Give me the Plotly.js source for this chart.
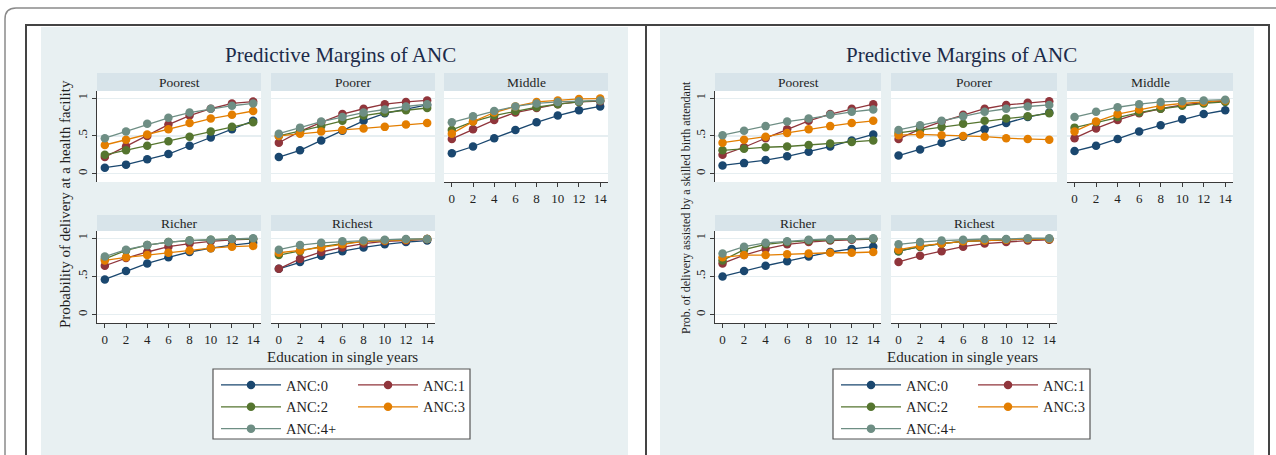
<!DOCTYPE html>
<html><head><meta charset="utf-8">
<script src="https://cdn.plot.ly/plotly-3.0.1.min.js"></script>
<style>html,body{margin:0;padding:0;background:#fff}#chart{width:1276px;height:455px}</style>
</head><body><div id="chart"></div>
<script>
// ---------- DATA ----------
const EDU = [0, 2, 4, 6, 8, 10, 12, 14];
const SERIES_NAMES = ['ANC:0', 'ANC:1', 'ANC:2', 'ANC:3', 'ANC:4+'];
const GROUPS = ['Poorest', 'Poorer', 'Middle', 'Richer', 'Richest'];
const PANEL_TITLES = ['Predictive Margins of ANC', 'Predictive Margins of ANC'];
const Y_TITLES = ['Probability of delivery at a health facility', 'Prob. of delivery assisted by a skilled birth attendant'];
const X_TITLE = 'Education in single years';
const Y_TICK_VALS = [0, 0.5, 1];
const Y_TICK_TEXT = ['0', '.5', '1'];

// Left panel: delivery at a health facility (rows = ANC:0..ANC:4+)
const facPoorest = [
  [0.08, 0.12, 0.19, 0.26, 0.37, 0.48, 0.59, 0.70],
  [0.22, 0.36, 0.50, 0.65, 0.77, 0.86, 0.93, 0.955],
  [0.25, 0.31, 0.37, 0.43, 0.49, 0.56, 0.62, 0.68],
  [0.38, 0.45, 0.52, 0.59, 0.67, 0.73, 0.78, 0.83],
  [0.47, 0.56, 0.66, 0.74, 0.81, 0.86, 0.90, 0.93]];
const facPoorer = [
  [0.22, 0.31, 0.44, 0.57, 0.70, 0.80, 0.86, 0.91],
  [0.41, 0.56, 0.68, 0.79, 0.86, 0.92, 0.95, 0.97],
  [0.50, 0.56, 0.63, 0.70, 0.77, 0.81, 0.84, 0.87],
  [0.50, 0.53, 0.56, 0.58, 0.60, 0.62, 0.65, 0.67],
  [0.53, 0.61, 0.69, 0.75, 0.81, 0.85, 0.89, 0.92]];
const facMiddle = [
  [0.27, 0.36, 0.47, 0.58, 0.68, 0.77, 0.84, 0.89],
  [0.46, 0.59, 0.71, 0.81, 0.87, 0.92, 0.95, 0.96],
  [0.58, 0.69, 0.77, 0.83, 0.88, 0.92, 0.95, 0.97],
  [0.53, 0.69, 0.81, 0.89, 0.95, 0.97, 0.99, 0.995],
  [0.68, 0.76, 0.83, 0.89, 0.93, 0.95, 0.96, 0.97]];
const facRicher = [
  [0.46, 0.57, 0.67, 0.75, 0.82, 0.87, 0.91, 0.94],
  [0.64, 0.74, 0.82, 0.89, 0.93, 0.96, 0.98, 0.99],
  [0.73, 0.84, 0.91, 0.95, 0.97, 0.98, 0.99, 0.99],
  [0.71, 0.75, 0.78, 0.81, 0.84, 0.87, 0.89, 0.90],
  [0.76, 0.85, 0.91, 0.95, 0.97, 0.98, 0.99, 1.00]];
const facRichest = [
  [0.60, 0.69, 0.77, 0.83, 0.88, 0.92, 0.95, 0.97],
  [0.60, 0.73, 0.82, 0.88, 0.93, 0.96, 0.97, 0.99],
  [0.78, 0.83, 0.89, 0.93, 0.96, 0.97, 0.98, 0.99],
  [0.81, 0.84, 0.88, 0.92, 0.96, 0.97, 0.98, 0.99],
  [0.85, 0.91, 0.94, 0.96, 0.97, 0.98, 0.99, 0.99]];

// Right panel: delivery assisted by a skilled birth attendant
const sbaPoorest = [
  [0.11, 0.14, 0.18, 0.23, 0.29, 0.36, 0.44, 0.52],
  [0.25, 0.35, 0.47, 0.59, 0.70, 0.79, 0.86, 0.92],
  [0.31, 0.33, 0.35, 0.36, 0.38, 0.40, 0.42, 0.44],
  [0.41, 0.45, 0.49, 0.54, 0.59, 0.63, 0.67, 0.70],
  [0.51, 0.57, 0.63, 0.69, 0.73, 0.78, 0.82, 0.85]];
const sbaPoorer = [
  [0.24, 0.32, 0.41, 0.49, 0.59, 0.67, 0.75, 0.81],
  [0.46, 0.59, 0.69, 0.78, 0.86, 0.91, 0.94, 0.96],
  [0.54, 0.58, 0.62, 0.66, 0.70, 0.73, 0.76, 0.80],
  [0.51, 0.52, 0.51, 0.50, 0.49, 0.47, 0.46, 0.45],
  [0.58, 0.64, 0.70, 0.76, 0.82, 0.86, 0.89, 0.91]];
const sbaMiddle = [
  [0.30, 0.37, 0.46, 0.56, 0.64, 0.72, 0.79, 0.84],
  [0.47, 0.60, 0.71, 0.80, 0.86, 0.91, 0.94, 0.96],
  [0.61, 0.68, 0.75, 0.81, 0.86, 0.90, 0.93, 0.95],
  [0.56, 0.69, 0.79, 0.85, 0.90, 0.93, 0.95, 0.97],
  [0.75, 0.82, 0.88, 0.92, 0.95, 0.96, 0.97, 0.98]];
const sbaRicher = [
  [0.50, 0.57, 0.64, 0.70, 0.76, 0.82, 0.86, 0.89],
  [0.67, 0.78, 0.86, 0.92, 0.95, 0.97, 0.98, 0.99],
  [0.71, 0.85, 0.92, 0.95, 0.97, 0.98, 0.99, 0.99],
  [0.75, 0.78, 0.78, 0.79, 0.80, 0.81, 0.81, 0.82],
  [0.80, 0.89, 0.94, 0.96, 0.98, 0.99, 0.99, 1.00]];
const sbaRichest = [
  [0.83, 0.89, 0.93, 0.96, 0.97, 0.98, 0.99, 0.99],
  [0.69, 0.77, 0.83, 0.89, 0.93, 0.95, 0.97, 0.98],
  [0.83, 0.89, 0.93, 0.96, 0.97, 0.98, 0.99, 0.99],
  [0.85, 0.90, 0.93, 0.96, 0.97, 0.98, 0.99, 0.99],
  [0.92, 0.95, 0.97, 0.98, 0.99, 0.99, 1.00, 1.00]];

const PANEL_DATA = [
  [facPoorest, facPoorer, facMiddle, facRicher, facRichest],
  [sbaPoorest, sbaPoorer, sbaMiddle, sbaRicher, sbaRichest]];

// ---------- STYLE / LAYOUT ----------
const W = 1276, H = 455;
const COLORS = ['#1a476f', '#90353b', '#55752f', '#e37e00', '#6e8e84'];
const SERIF = '"Liberation Serif", "Times New Roman", serif';
const TXT = '#1f1f1f';
const fx = p => p / W;
const fy = p => 1 - p / H;

const PANEL_COLS = [
  [[97, 261], [271, 435], [444, 608]],
  [[715, 881], [891, 1057], [1067, 1233]]];
const ROWS = [[91, 182], [231, 323]];
const HEADERS = [[73, 91], [215, 231]];
const CELL = [[0, 0], [1, 0], [2, 0], [0, 1], [1, 1]]; // [col,row]
const XRANGES = [[-0.74, 14.74], [-0.70, 14.72]];
const YRANGE = [-0.11, 1.095];

const traces = [];
const layout = {
  width: W, height: H,
  margin: {l: 0, r: 0, t: 0, b: 0},
  paper_bgcolor: '#ffffff',
  plot_bgcolor: 'rgba(0,0,0,0)',
  showlegend: true,
  shapes: [], annotations: [],
  font: {family: SERIF, color: TXT, size: 13}
};

layout.shapes.push({type: 'path', xref: 'paper', yref: 'paper', layer: 'below',
  path: `M ${fx(1290)},${fy(8)} L ${fx(16)},${fy(8)} Q ${fx(5)},${fy(8)} ${fx(5)},${fy(19)} L ${fx(5)},${fy(470)}`,
  line: {color: '#8a8a8a', width: 1.5}});
[[41, 628], [660, 1254]].forEach(([a, b]) => layout.shapes.push({type: 'rect', xref: 'paper', yref: 'paper', layer: 'below',
  x0: fx(a), x1: fx(b), y0: fy(27), y1: fy(470), fillcolor: '#e8f0f2', line: {width: 0}}));
layout.shapes.push({type: 'path', xref: 'paper', yref: 'paper', layer: 'below',
  path: `M ${fx(26)},${fy(470)} L ${fx(26)},${fy(25)} L ${fx(1269)},${fy(25)} L ${fx(1269)},${fy(470)} M ${fx(646)},${fy(25)} L ${fx(646)},${fy(470)}`,
  line: {color: '#444444', width: 2}});

let n = 0;
for (let p = 0; p < 2; p++) {
  const cols = PANEL_COLS[p];
  for (let g = 0; g < 5; g++) {
    n++;
    const [c, r] = CELL[g];
    const [x0, x1] = cols[c];
    const [y0, y1] = ROWS[r];
    const [h0, h1] = HEADERS[r];
    const xa = 'xaxis' + (n === 1 ? '' : n), ya = 'yaxis' + (n === 1 ? '' : n);
    const xid = 'x' + (n === 1 ? '' : n), yid = 'y' + (n === 1 ? '' : n);
    const bottomOfCol = (r === 1) || (c === 2);
    const leftCol = (c === 0);
    layout[xa] = {domain: [fx(x0), fx(x1)], anchor: yid, range: XRANGES[p],
      tickvals: EDU, showgrid: false, zeroline: false,
      showline: bottomOfCol, linecolor: '#3a3a3a', linewidth: 1,
      ticks: bottomOfCol ? 'outside' : '', ticklen: 4, tickcolor: '#3a3a3a',
      showticklabels: bottomOfCol, tickfont: {family: SERIF, size: 13, color: TXT}, fixedrange: true};
    layout[ya] = {domain: [fy(y1), fy(y0)], anchor: xid, range: YRANGE,
      tickvals: Y_TICK_VALS, ticktext: Y_TICK_TEXT, showgrid: true, gridcolor: '#e6eef1', gridwidth: 1.2,
      zeroline: false, showline: leftCol, linecolor: '#3a3a3a', linewidth: 1,
      ticks: leftCol ? 'outside' : '', ticklen: 4, tickcolor: '#3a3a3a', tickangle: -90,
      showticklabels: leftCol, tickfont: {family: SERIF, size: 13, color: TXT}, fixedrange: true};
    layout.shapes.push({type: 'rect', xref: 'paper', yref: 'paper', layer: 'below',
      x0: fx(x0), x1: fx(x1), y0: fy(y1), y1: fy(y0), fillcolor: '#ffffff', line: {width: 0}});
    layout.shapes.push({type: 'rect', xref: 'paper', yref: 'paper', layer: 'below',
      x0: fx(x0), x1: fx(x1), y0: fy(h1), y1: fy(h0), fillcolor: '#d8e4ea', line: {width: 0}});
    layout.annotations.push({text: GROUPS[g], xref: 'paper', yref: 'paper', x: fx((x0 + x1) / 2), y: fy((h0 + h1) / 2),
      xanchor: 'center', yanchor: 'middle', showarrow: false, font: {family: SERIF, size: 13.5, color: TXT}});
    const data = PANEL_DATA[p][g];
    for (let s = 0; s < 5; s++) {
      const li = p * 2 + (s % 2);
      traces.push({type: 'scatter', mode: 'lines+markers', x: EDU, y: data[s], name: SERIES_NAMES[s],
        xaxis: xid, yaxis: yid, line: {color: COLORS[s], width: 1.3},
        marker: {color: COLORS[s], size: 8.5},
        showlegend: g === 0, legend: 'legend' + (li === 0 ? '' : li + 1),
        hoverinfo: 'skip'});
    }
  }
  const cx = p === 0 ? 340 : 961;
  layout.annotations.push({text: PANEL_TITLES[p], xref: 'paper', yref: 'paper', x: fx(cx), y: fy(55),
    xanchor: 'center', yanchor: 'middle', showarrow: false, font: {family: SERIF, size: 21, color: '#1c2b4a'}});
  layout.annotations.push({text: X_TITLE, xref: 'paper', yref: 'paper', x: fx(p === 0 ? 342 : 962), y: fy(357),
    xanchor: 'center', yanchor: 'middle', showarrow: false, font: {family: SERIF, size: 15, color: TXT}});
  layout.annotations.push({text: Y_TITLES[p], xref: 'paper', yref: 'paper', x: fx(p === 0 ? 65 : 686), y: fy(p === 0 ? 204 : 208),
    xanchor: 'center', yanchor: 'middle', textangle: -90, showarrow: false,
    font: {family: SERIF, size: p === 0 ? 15 : 12, color: TXT}});
  const lx = p === 0 ? 213 : 833;
  layout.shapes.push({type: 'rect', xref: 'paper', yref: 'paper', layer: 'below',
    x0: fx(lx), x1: fx(lx + 257), y0: fy(439), y1: fy(369), fillcolor: '#ffffff', line: {color: '#555555', width: 1.2}});
  for (let k = 0; k < 2; k++) {
    const idx = p * 2 + k;
    const key = 'legend' + (idx === 0 ? '' : idx + 1);
    layout[key] = {x: fx(lx + (k === 0 ? 3 : 140)), y: fy(369), xanchor: 'left', yanchor: 'top',
      orientation: 'v', bgcolor: 'rgba(0,0,0,0)', borderwidth: 0, itemwidth: 60,
      font: {family: SERIF, size: 14.5, color: TXT}, tracegroupgap: 0, itemclick: false, itemdoubleclick: false};
  }
}

Plotly.newPlot('chart', traces, layout, {staticPlot: true, displayModeBar: false});
</script>
</body></html>
